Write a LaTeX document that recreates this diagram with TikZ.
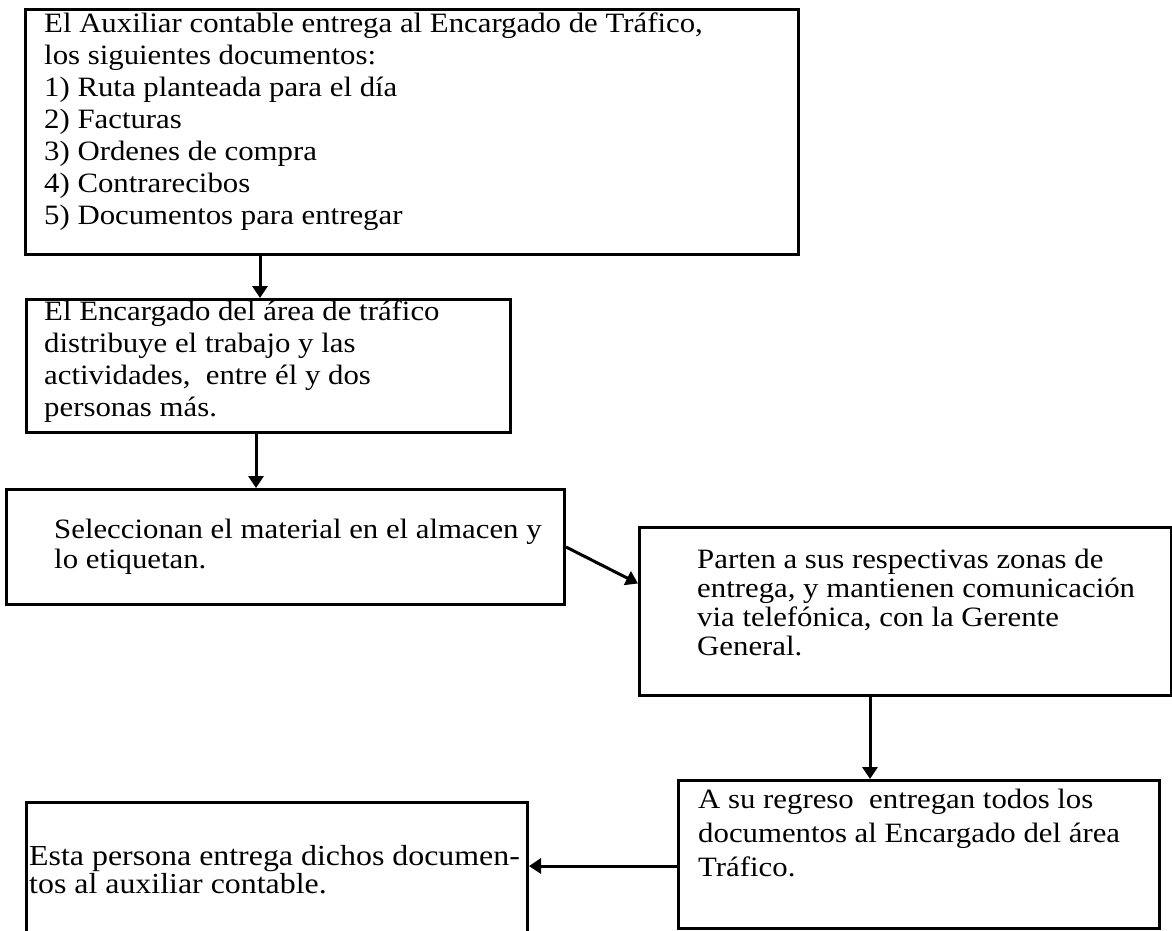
\documentclass[tikz,border=0pt]{standalone}
\usepackage{fontspec}
\setmainfont{Liberation Serif}[FakeStretch=1.1]
\usetikzlibrary{arrows.meta}
\begin{document}
\begin{tikzpicture}[x=1pt,y=-1pt,
  box/.style={draw,line width=3pt,inner sep=0pt,anchor=north west},
  txt/.style={inner sep=0pt,anchor=north west,align=left,font=\fontsize{28}{32}\selectfont},
  arr/.style={line width=3pt,-{Triangle[width=15pt,length=12pt]}}]
\useasboundingbox (0,0) rectangle (1172,931);
\fill[white] (0,0) rectangle (1172,931);
% boxes
\node[box,minimum width=773pt,minimum height=245pt] (b1) at (24,8) {};
\node[box,minimum width=484pt,minimum height=133pt] (b2) at (25,298) {};
\node[box,minimum width=558pt,minimum height=115pt] (b3) at (5,488) {};
\node[box,minimum width=532pt,minimum height=168pt] (b4) at (638,526) {};
\node[box,minimum width=481pt,minimum height=148pt] (b5) at (677,779) {};
\node[box,minimum width=501pt,minimum height=200pt] (b6) at (25,801) {};
% texts
\node[txt] (t1) at (44,10) {\rule{0pt}{22pt}El Auxiliar contable entrega al Encargado de Tráfico,\\
los siguientes documentos:\\
1) Ruta planteada para el día\\
2) Facturas\\
3) Ordenes de compra\\
4) Contrarecibos\\
5) Documentos para entregar};
\node[txt] (t2) at (44,298) {\rule{0pt}{22pt}El Encargado del área de tráfico\\
distribuye el trabajo y las\\
actividades,\ \ entre él y dos\\
personas más.};
\node[txt,font=\fontsize{28}{30}\selectfont] (t3) at (54,516) {\rule{0pt}{22pt}Seleccionan el material en el almacen y\\
lo etiquetan.};
\node[txt,font=\fontsize{28}{29}\selectfont] (t4) at (697,546) {\rule{0pt}{22pt}Parten a sus respectivas zonas de\\
entrega, y mantienen comunicación\\
via telefónica, con la Gerente\\
General.};
\node[txt,font=\fontsize{28}{34}\selectfont] (t5) at (698,786) {\rule{0pt}{22pt}A su regreso\ \ entregan todos los\\
documentos al Encargado del área\\
Tráfico.};
\node[txt,font=\fontsize{29}{28}\selectfont] (t6) at (29,843) {\rule{0pt}{22pt}Esta persona entrega dichos documen-\\
tos al auxiliar contable.};
% connectors
\coordinate (ka) at (260,0);
\coordinate (kb) at (256,0);
\coordinate (kc) at (870,0);
\coordinate (kd) at (0,866);
\draw[arr] (b1.south -| ka) -- (b2.north -| ka);
\draw[arr] (b2.south -| kb) -- (b3.north -| kb);
\draw[arr] (b3.east) -- ([yshift=28pt]b4.west);
\draw[arr] (b4.south -| kc) -- (b5.north -| kc);
\draw[arr] (b5.west |- kd) -- (b6.east |- kd);
\end{tikzpicture}
\end{document}
